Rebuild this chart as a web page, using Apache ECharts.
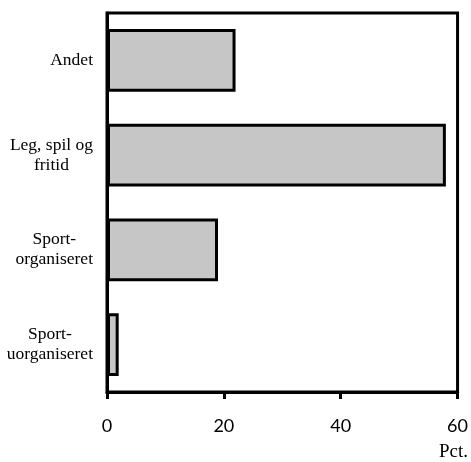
<!DOCTYPE html>
<html><head><meta charset="utf-8">
<script src="https://cdn.jsdelivr.net/npm/echarts@6/dist/echarts.min.js"></script>
<style>html,body{margin:0;padding:0;background:#fff}#c{width:471px;height:462px}</style>
</head><body><div id="c"></div>
<script>
const categories = ['Andet', 'Leg, spil og\nfritid', 'Sport-\norganiseret', 'Sport-\nuorganiseret'];
const values = [22, 58, 19, 2];
const xTicks = [0, 20, 40, 60];
const unitLabel = 'Pct.';

const chart = echarts.init(document.getElementById('c'), null, {renderer: 'canvas'});
chart.setOption({
  animation: false,
  backgroundColor: '#fff',
  grid: {left: 107, right: 13, top: 13, bottom: 70, show: true, borderColor: '#000', borderWidth: 3, backgroundColor: 'transparent'},
  xAxis: {
    type: 'value', min: xTicks[0], max: xTicks[xTicks.length - 1], interval: 20,
    axisLine: {show: true, lineStyle: {color: '#000', width: 3}},
    axisTick: {show: true, length: 7, lineStyle: {color: '#000', width: 3}},
    splitLine: {show: false},
    axisLabel: {margin: 25, color: '#000', fontFamily: 'Lato', fontSize: 18}
  },
  yAxis: {
    type: 'category', data: categories, inverse: true,
    axisLine: {show: true, lineStyle: {color: '#000', width: 3}},
    axisTick: {show: false},
    axisLabel: {
      margin: 14, color: '#000', align: 'right',
      formatter: v => v.split('\n').map(l => '{c|' + l + '}').join('\n'),
      rich: {c: {align: 'center', fontFamily: 'Liberation Serif', fontSize: 17.5, lineHeight: 20, color: '#000'}}
    }
  },
  graphic: [{type: 'text', right: 3, top: 443, style: {text: unitLabel, fontFamily: 'Liberation Serif', fontSize: 19, fill: '#000'}}],
  series: [{
    type: 'bar', data: values, barCategoryGap: '34%',
    itemStyle: {color: '#c6c6c6', borderColor: '#000', borderWidth: 3}
  }]
});
</script></body></html>
